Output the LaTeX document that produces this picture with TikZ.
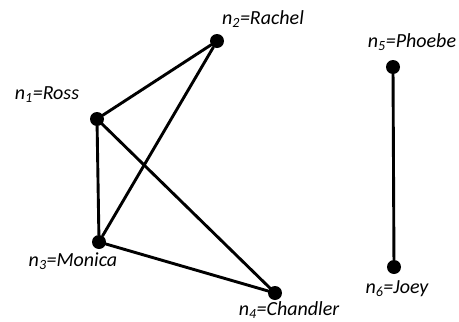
\documentclass[tikz,border=0pt]{standalone}
\usepackage{fontspec}
\setmainfont{Carlito}

\tikzset{
  vertex/.style={circle,fill=black,inner sep=0pt,minimum size=14pt},
  edge/.style={line width=2.9pt},
  personlabel/.style={font=\fontsize{20}{24}\selectfont\itshape,inner sep=0pt}
}

\begin{document}
\begin{tikzpicture}[x=1pt,y=-1pt,line cap=round,line join=round]
  \useasboundingbox (0,0) rectangle (459,322);
  % the six people
  \node[vertex] (ross)     at (97,119) {};
  \node[vertex] (rachel)   at (217,41) {};
  \node[vertex] (monica)   at (99,242) {};
  \node[vertex] (chandler) at (275,293) {};
  \node[vertex] (phoebe)   at (393,67) {};
  \node[vertex] (joey)     at (394,267) {};
  % ties
  \draw[edge] (ross) -- (rachel);
  \draw[edge] (ross) -- (monica);
  \draw[edge] (ross) -- (chandler);
  \draw[edge] (rachel) -- (monica);
  \draw[edge] (monica) -- (chandler);
  \draw[edge] (phoebe) -- (joey);
  % labels
  \node[personlabel] (lross)     at (47,95)   {n\textsubscript{1}=Ross};
  \node[personlabel] (lrachel)   at (263,19)  {n\textsubscript{2}=Rachel};
  \node[personlabel] (lmonica)   at (73,261)  {n\textsubscript{3}=Monica};
  \node[personlabel] (lchandler) at (289,310) {n\textsubscript{4}=Chandler};
  \node[personlabel] (lphoebe)   at (412,42)  {n\textsubscript{5}=Phoebe};
  \node[personlabel] (ljoey)     at (397,289) {n\textsubscript{6}=Joey};
\end{tikzpicture}
\end{document}
